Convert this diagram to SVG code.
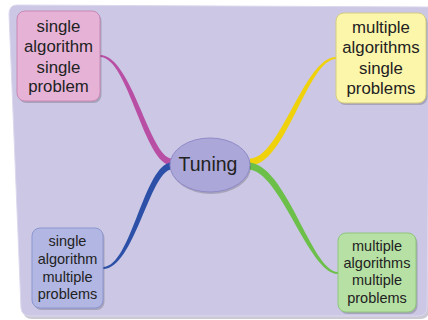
<svg xmlns="http://www.w3.org/2000/svg" width="428" height="320" viewBox="0 0 428 320">
<style>
text{font-family:"Liberation Sans",Arial,sans-serif;fill:#222;text-anchor:middle}
.big{font-size:16.8px}
.small{font-size:14.5px}
.shadow{fill:#000;opacity:0.18}
</style>
<rect width="428" height="320" fill="#ffffff"/>
<path d="M18,7 L430,9 L429,310 Q429,319 420,319 L32,319 Q24,319 23,311 L11,16 Q11,7 18,7 Z" fill="#8a87a0" opacity="0.45"/>
<path d="M17,5 L430,7 L427,307 Q427,316 418,316 L30,316 Q22,316 21,308 L9,14 Q9,5 17,5 Z" fill="#cbc7e4" stroke="#dcd9ef" stroke-width="1"/>
<g id="connectors">
<path d="M100,55 C131.5,55 150,158.5 172,158.5 L172,165.5 C144,165.5 128.5,57 100,57 Z" fill="#b84fa4"/>
<path d="M336,57 C304.5,57 280,158.5 250,158.5 L250,165.5 C286,165.5 307.5,59 336,59 Z" fill="#f0d20c"/>
<path d="M103,267 C131.5,267 144,162.5 172,162.5 L172,169.5 C150,169.5 134.5,269 103,269 Z" fill="#2c50a8"/>
<path d="M338,272 C311.5,272 286,162.5 248,162.5 L248,169.5 C280,169.5 308.5,274 338,274 Z" fill="#6cc04a"/>
</g>
<g id="node-center">
<ellipse cx="211" cy="167" rx="40" ry="27" class="shadow"/>
<ellipse cx="210" cy="165" rx="40" ry="27" fill="#aba7d8" stroke="#8f8ac8" stroke-width="1"/>
<text x="208" y="171" style="font-size:19.5px">Tuning</text>
</g>
<g id="node-single-single">
<rect x="18.5" y="13" width="83" height="90" rx="8" class="shadow"/>
<rect x="17" y="11" width="83" height="90" rx="8" fill="#e6b3d7" stroke="#c888b8" stroke-width="1"/>
<text class="big" x="58.5" y="32">single</text>
<text class="big" x="58.5" y="52">algorithm</text>
<text class="big" x="58.5" y="72.5">single</text>
<text class="big" x="58.5" y="92">problem</text>
</g>
<g id="node-multiple-single">
<rect x="337.5" y="15" width="90" height="90" rx="8" class="shadow"/>
<rect x="336" y="13" width="90" height="90" rx="8" fill="#fcf6ab" stroke="#d6cc80" stroke-width="1"/>
<text class="big" x="381" y="33">multiple</text>
<text class="big" x="381" y="53">algorithms</text>
<text class="big" x="381" y="74">single</text>
<text class="big" x="381" y="93.5">problems</text>
</g>
<g id="node-single-multiple">
<rect x="33.5" y="230" width="71" height="80" rx="8" class="shadow"/>
<rect x="32" y="228" width="71" height="80" rx="8" fill="#b1b6e2" stroke="#8c96d2" stroke-width="1"/>
<text class="small" x="67.5" y="246">single</text>
<text class="small" x="67.5" y="264">algorithm</text>
<text class="small" x="67.5" y="281.5">multiple</text>
<text class="small" x="67.5" y="299">problems</text>
</g>
<g id="node-multiple-multiple">
<rect x="339.5" y="235" width="78" height="79" rx="8" class="shadow"/>
<rect x="338" y="233" width="78" height="79" rx="8" fill="#b6e0a4" stroke="#8ec67c" stroke-width="1"/>
<text class="small" x="377" y="250.5">multiple</text>
<text class="small" x="377" y="267.5">algorithms</text>
<text class="small" x="377" y="285">multiple</text>
<text class="small" x="377" y="302.5">problems</text>
</g>
</svg>
